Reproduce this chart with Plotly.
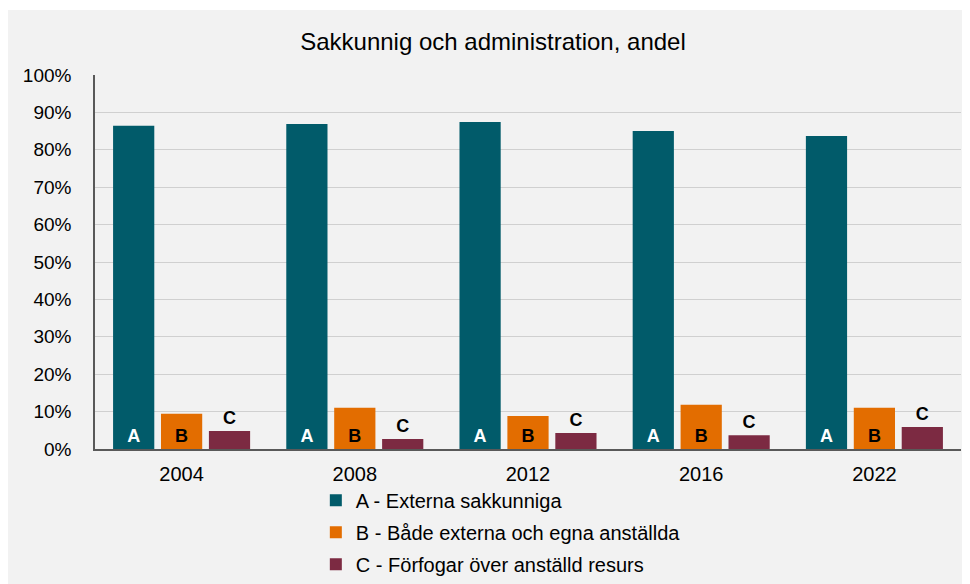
import plotly.graph_objects as go

# Data
years = ["2004", "2008", "2012", "2016", "2022"]
share_a = [0.864, 0.869, 0.874, 0.850, 0.837]
share_b = [0.094, 0.110, 0.088, 0.118, 0.110]
share_c = [0.048, 0.027, 0.043, 0.037, 0.059]
series_names = ["A - Externa sakkunniga", "B - Både externa och egna anställda", "C - Förfogar över anställd resurs"]
short_labels = ["A", "B", "C"]

colors = ["#015b6a", "#e36d00", "#7c2a42"]
label_colors = ["white", "black", "black"]
positions = ["inside", "inside", "outside"]

fig = go.Figure()
for i, vals in enumerate([share_a, share_b, share_c]):
    fig.add_trace(go.Bar(
        x=years,
        y=vals,
        name=series_names[i],
        legendgroup=short_labels[i],
        marker=dict(color=colors[i], line=dict(width=0)),
        text=[short_labels[i]] * len(years),
        textposition=positions[i],
        insidetextanchor="start",
        textangle=0,
        constraintext="none",
        cliponaxis=False,
        textfont=dict(family="Liberation Sans, Arial", size=18, color=label_colors[i], weight="bold"),
    ))

# grey panel with white rim
fig.add_shape(type="rect", xref="paper", yref="paper",
              x0=-0.11, x1=1.03, y0=-0.39, y1=1.174,
              fillcolor="#f2f2f2", line=dict(width=0), layer="below")

# page body has an 8px margin, so offsets are compensated here
fig.update_layout(
    width=970, height=584,
    margin=dict(l=87, r=17, t=67, b=143, autoexpand=False),
    paper_bgcolor="white",
    plot_bgcolor="rgba(0,0,0,0)",
    font=dict(family="Liberation Sans, Arial", size=19, color="#000000"),
    title=dict(text="Sakkunnig och administration, andel", x=0.5, xanchor="center",
               y=0.942, yanchor="middle", font=dict(size=24)),
    barmode="group",
    bargap=0.17,
    bargroupgap=0.14,
    legend=dict(orientation="v", x=0.255, y=-0.085, xanchor="left", yanchor="top",
                bgcolor="rgba(0,0,0,0)", font=dict(size=20), tracegroupgap=3,
                itemwidth=30),
    showlegend=True,
    xaxis=dict(showgrid=False, showline=True, linecolor="#595959", linewidth=1.5,
               ticks="", ticklabelstandoff=6, tickfont=dict(size=20)),
    yaxis=dict(range=[0, 1.0], dtick=0.1, tickformat=".0%", showgrid=True,
               gridcolor="#d0d0d0", gridwidth=1, zeroline=False,
               showline=True, linecolor="#595959", linewidth=1.5,
               ticks="", ticklabelstandoff=18, tickfont=dict(size=19)),
)

fig.write_html("out.html")
